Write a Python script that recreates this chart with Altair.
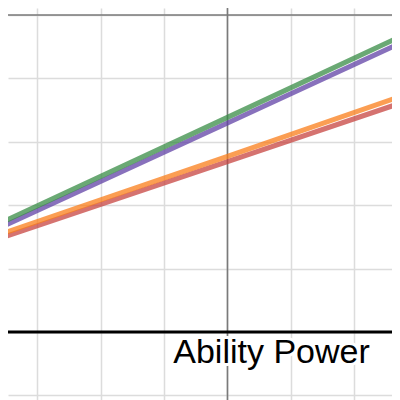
import altair as alt
import pandas as pd

# Data (grid units: 1 unit per grid square; origin where the dark axes cross)
line_x = [-3.588, 0.0, 2.721]
red_y = [-3.524, -2.314, -1.393]
purple_y = [-3.353, -1.703, -0.446]
green_y = [-3.286, -1.615, -0.342]
orange_y = [-3.461, -2.229, -1.289]
series_names = ["red", "purple", "green", "orange"]
series_colors = ["#c74440", "#6042a6", "#388c46", "#fa7e19"]
black_line_y = [-5.0]
label_text = ["Ability Power"]
label_x = [-0.855]
label_y = [-5.489]
grid_x = [-3, -2, -1, 0, 1, 2]
grid_y = [0, -1, -2, -3, -4, -5, -6]

rows = []
for name, ys in zip(series_names, [red_y, purple_y, green_y, orange_y]):
    for x, y in zip(line_x, ys):
        rows.append({"series": name, "x": x, "y": y})
lines_df = pd.DataFrame(rows)

xs = alt.Scale(domain=[-3.462, 2.595], nice=False, zero=False)
ys_ = alt.Scale(domain=[-6.073, 0.110], nice=False, zero=False)

xaxis = alt.Axis(values=grid_x, grid=True, labels=False, ticks=False, domain=False,
                 title=None, gridColor="#dcdcdc", gridWidth=1.5, gridOpacity=1)
yaxis = alt.Axis(values=grid_y, grid=True, labels=False, ticks=False, domain=False,
                 title=None, gridColor="#dcdcdc", gridWidth=1.5, gridOpacity=1)

grid = alt.Chart(pd.DataFrame({"x": [0.0], "y": [0.0]})).mark_point(opacity=0).encode(
    x=alt.X("x:Q", scale=xs, axis=xaxis),
    y=alt.Y("y:Q", scale=ys_, axis=yaxis),
)

axis_v = alt.Chart(pd.DataFrame({"x": [0.0]})).mark_rule(color="#7a7a7a", strokeWidth=1.6).encode(
    x=alt.X("x:Q", scale=xs)
)
axis_h = alt.Chart(pd.DataFrame({"y": [0.0]})).mark_rule(color="#7a7a7a", strokeWidth=1.6).encode(
    y=alt.Y("y:Q", scale=ys_)
)

lines = alt.Chart(lines_df).mark_line(strokeWidth=5, opacity=0.75, clip=True).encode(
    x=alt.X("x:Q", scale=xs),
    y=alt.Y("y:Q", scale=ys_),
    color=alt.Color("series:N", scale=alt.Scale(domain=series_names, range=series_colors), legend=None),
    order=alt.Order("x:Q"),
)

black = alt.Chart(pd.DataFrame({"y": black_line_y})).mark_rule(color="#000000", strokeWidth=3).encode(
    y=alt.Y("y:Q", scale=ys_)
)

label_df = pd.DataFrame({"t": label_text, "x": label_x, "y": label_y})
halo = alt.Chart(label_df).mark_text(
    align="left", baseline="alphabetic", font="Liberation Sans", fontSize=34,
    stroke="white", strokeWidth=6, fill="white", strokeJoin="round"
).encode(x=alt.X("x:Q", scale=xs), y=alt.Y("y:Q", scale=ys_), text="t:N")
label = alt.Chart(label_df).mark_text(
    align="left", baseline="alphabetic", font="Liberation Sans", fontSize=34, color="#000000"
).encode(x=alt.X("x:Q", scale=xs), y=alt.Y("y:Q", scale=ys_), text="t:N")

chart = alt.layer(grid, axis_v, axis_h, lines, black, halo, label).properties(
    width=384, height=392, padding=0, autosize="none"
).configure_view(stroke=None)

chart.save("out.html", embed_options={"renderer": "svg", "actions": False})
